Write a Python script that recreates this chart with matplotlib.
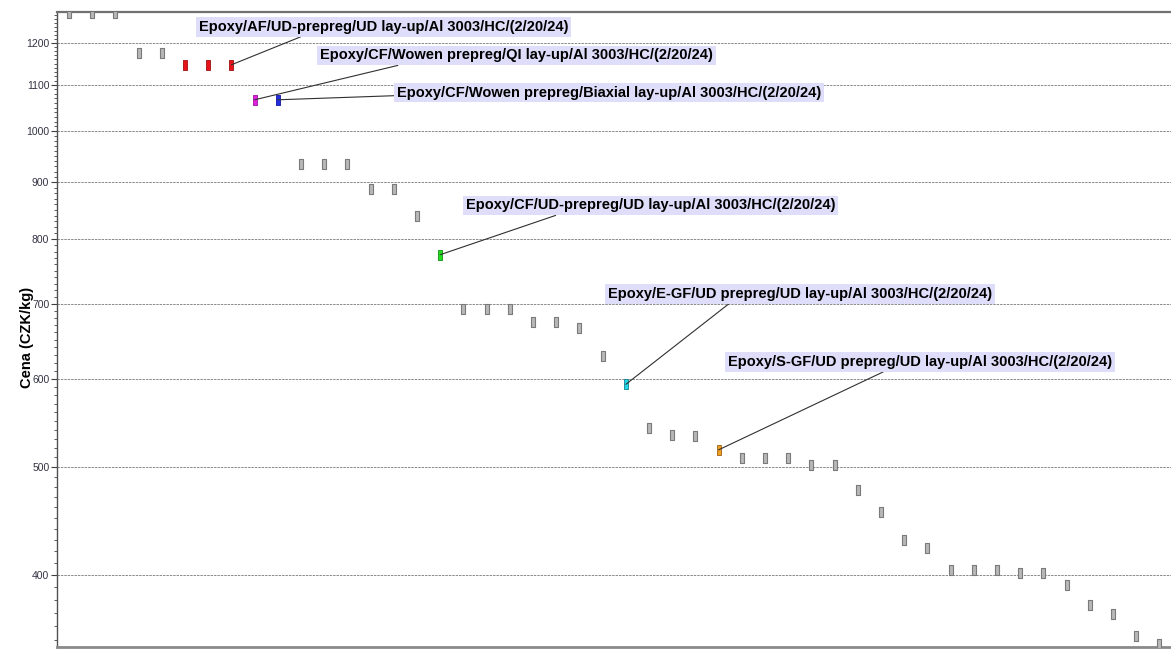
import matplotlib
matplotlib.use("Agg")
import matplotlib.pyplot as plt
from matplotlib.path import Path
from matplotlib.ticker import FixedLocator, NullFormatter, FuncFormatter

plt.rcParams['font.family'] = ['Liberation Sans', 'DejaVu Sans']

# ---- data ----
prices = [1277, 1277, 1277, 1176, 1176, 1147, 1147, 1147, 1067, 1067,
          935, 935, 935, 888, 888, 840, 775, 693, 693, 693,
          675, 675, 666, 629, 593, 542, 534, 533, 518, 509,
          509, 509, 502, 502, 477, 456, 430, 423, 404, 404,
          404, 402, 402, 392, 376, 369, 353, 347]

highlight_idx = [5, 6, 7, 8, 9, 16, 24, 28]
highlight_col = ['#e8141c', '#e8141c', '#e8141c', '#e020e0', '#2030e0', '#20e020', '#20d8e8', '#f0a020']
highlight_edge = ['#a01010', '#a01010', '#a01010', '#a010a0', '#1010a0', '#109010', '#108090', '#a06010']

labels = ["Epoxy/AF/UD-prepreg/UD lay-up/Al 3003/HC/(2/20/24)",
          "Epoxy/CF/Wowen prepreg/QI lay-up/Al 3003/HC/(2/20/24)",
          "Epoxy/CF/Wowen prepreg/Biaxial lay-up/Al 3003/HC/(2/20/24)",
          "Epoxy/CF/UD-prepreg/UD lay-up/Al 3003/HC/(2/20/24)",
          "Epoxy/E-GF/UD prepreg/UD lay-up/Al 3003/HC/(2/20/24)",
          "Epoxy/S-GF/UD prepreg/UD lay-up/Al 3003/HC/(2/20/24)"]
label_idx = [7, 8, 9, 16, 24, 28]
label_pos = [(0.1275, 0.9764), (0.2361, 0.9315), (0.3052, 0.8732),
             (0.3671, 0.6953), (0.4946, 0.5559), (0.6023, 0.4488)]
label_rel = [(0.294, 0.0), (0.229, 0.0), (0.0, 0.28),
             (0.266, 0.0), (0.324, 0.0), (0.42, 0.0)]

major_ticks = [400, 500, 600, 700, 800, 900, 1000, 1100, 1200]
minor_ticks = list(range(350, 1280, 10))

# ---- figure ----
fig = plt.figure(figsize=(11.71, 6.5), dpi=100)
ax = fig.add_axes([57/1171, 1 - 647/650, 1 - 57/1171, (647 - 12)/650])

rect = Path([(-0.24, -0.5), (0.24, -0.5), (0.24, 0.5), (-0.24, 0.5), (-0.24, -0.5)],
            [Path.MOVETO, Path.LINETO, Path.LINETO, Path.LINETO, Path.CLOSEPOLY])

xs = list(range(len(prices)))
gray_x = [i for i in xs if i not in highlight_idx]
ax.plot(gray_x, [prices[i] for i in gray_x], linestyle='none', marker=rect,
        markersize=6.6, markerfacecolor='#b8b8b8', markeredgecolor='#7a7a7a',
        markeredgewidth=0.8, zorder=3)
for i, fc, ec in zip(highlight_idx, highlight_col, highlight_edge):
    ax.plot([i], [prices[i]], linestyle='none', marker=rect, markersize=6.6,
            markerfacecolor=fc, markeredgecolor=ec, markeredgewidth=0.6, zorder=4)

ax.set_yscale('log')
ax.set_ylim(344.8, 1279)
ax.set_xlim(-0.52, 47.5)

ax.yaxis.set_major_locator(FixedLocator(major_ticks))
ax.yaxis.set_minor_locator(FixedLocator([m for m in minor_ticks if m not in major_ticks]))
ax.yaxis.set_major_formatter(FuncFormatter(lambda v, p: f"{int(round(v))}"))
ax.yaxis.set_minor_formatter(NullFormatter())
ax.tick_params(axis='y', which='major', length=4, width=0.8, color='#404040',
               labelsize=7.5, labelcolor='#333344', pad=1.5)
ax.tick_params(axis='y', which='minor', length=2.5, width=0.6, color='#404040')
ax.set_xticks([])

ax.grid(axis='y', which='major', linestyle=(0, (2.5, 1)), color='#8a8a8a', linewidth=0.7)
ax.set_axisbelow(True)

ax.spines['right'].set_visible(False)
ax.spines['top'].set_color('#707070')
ax.spines['top'].set_linewidth(1.6)
ax.spines['bottom'].set_color('#8a8a8a')
ax.spines['bottom'].set_linewidth(2.0)
ax.spines['left'].set_color('#505050')
ax.spines['left'].set_linewidth(1.0)

ax.set_ylabel("Cena (CZK/kg)", fontsize=10.5, fontweight='bold')
ax.yaxis.set_label_coords(-0.0206, 0.488)

for txt, i, pos, rel in zip(labels, label_idx, label_pos, label_rel):
    ax.annotate(txt, xy=(i, prices[i]), xycoords='data',
                xytext=pos, textcoords='axes fraction',
                ha='left', va='center', fontsize=10.5, fontweight='bold', color='black',
                bbox=dict(boxstyle='square,pad=0.2', facecolor='#dedefa', edgecolor='none'),
                arrowprops=dict(arrowstyle='-', color='#303030', lw=0.8,
                                shrinkA=0, shrinkB=0, relpos=rel),
                zorder=5)

fig.savefig("out.png", dpi=100)
